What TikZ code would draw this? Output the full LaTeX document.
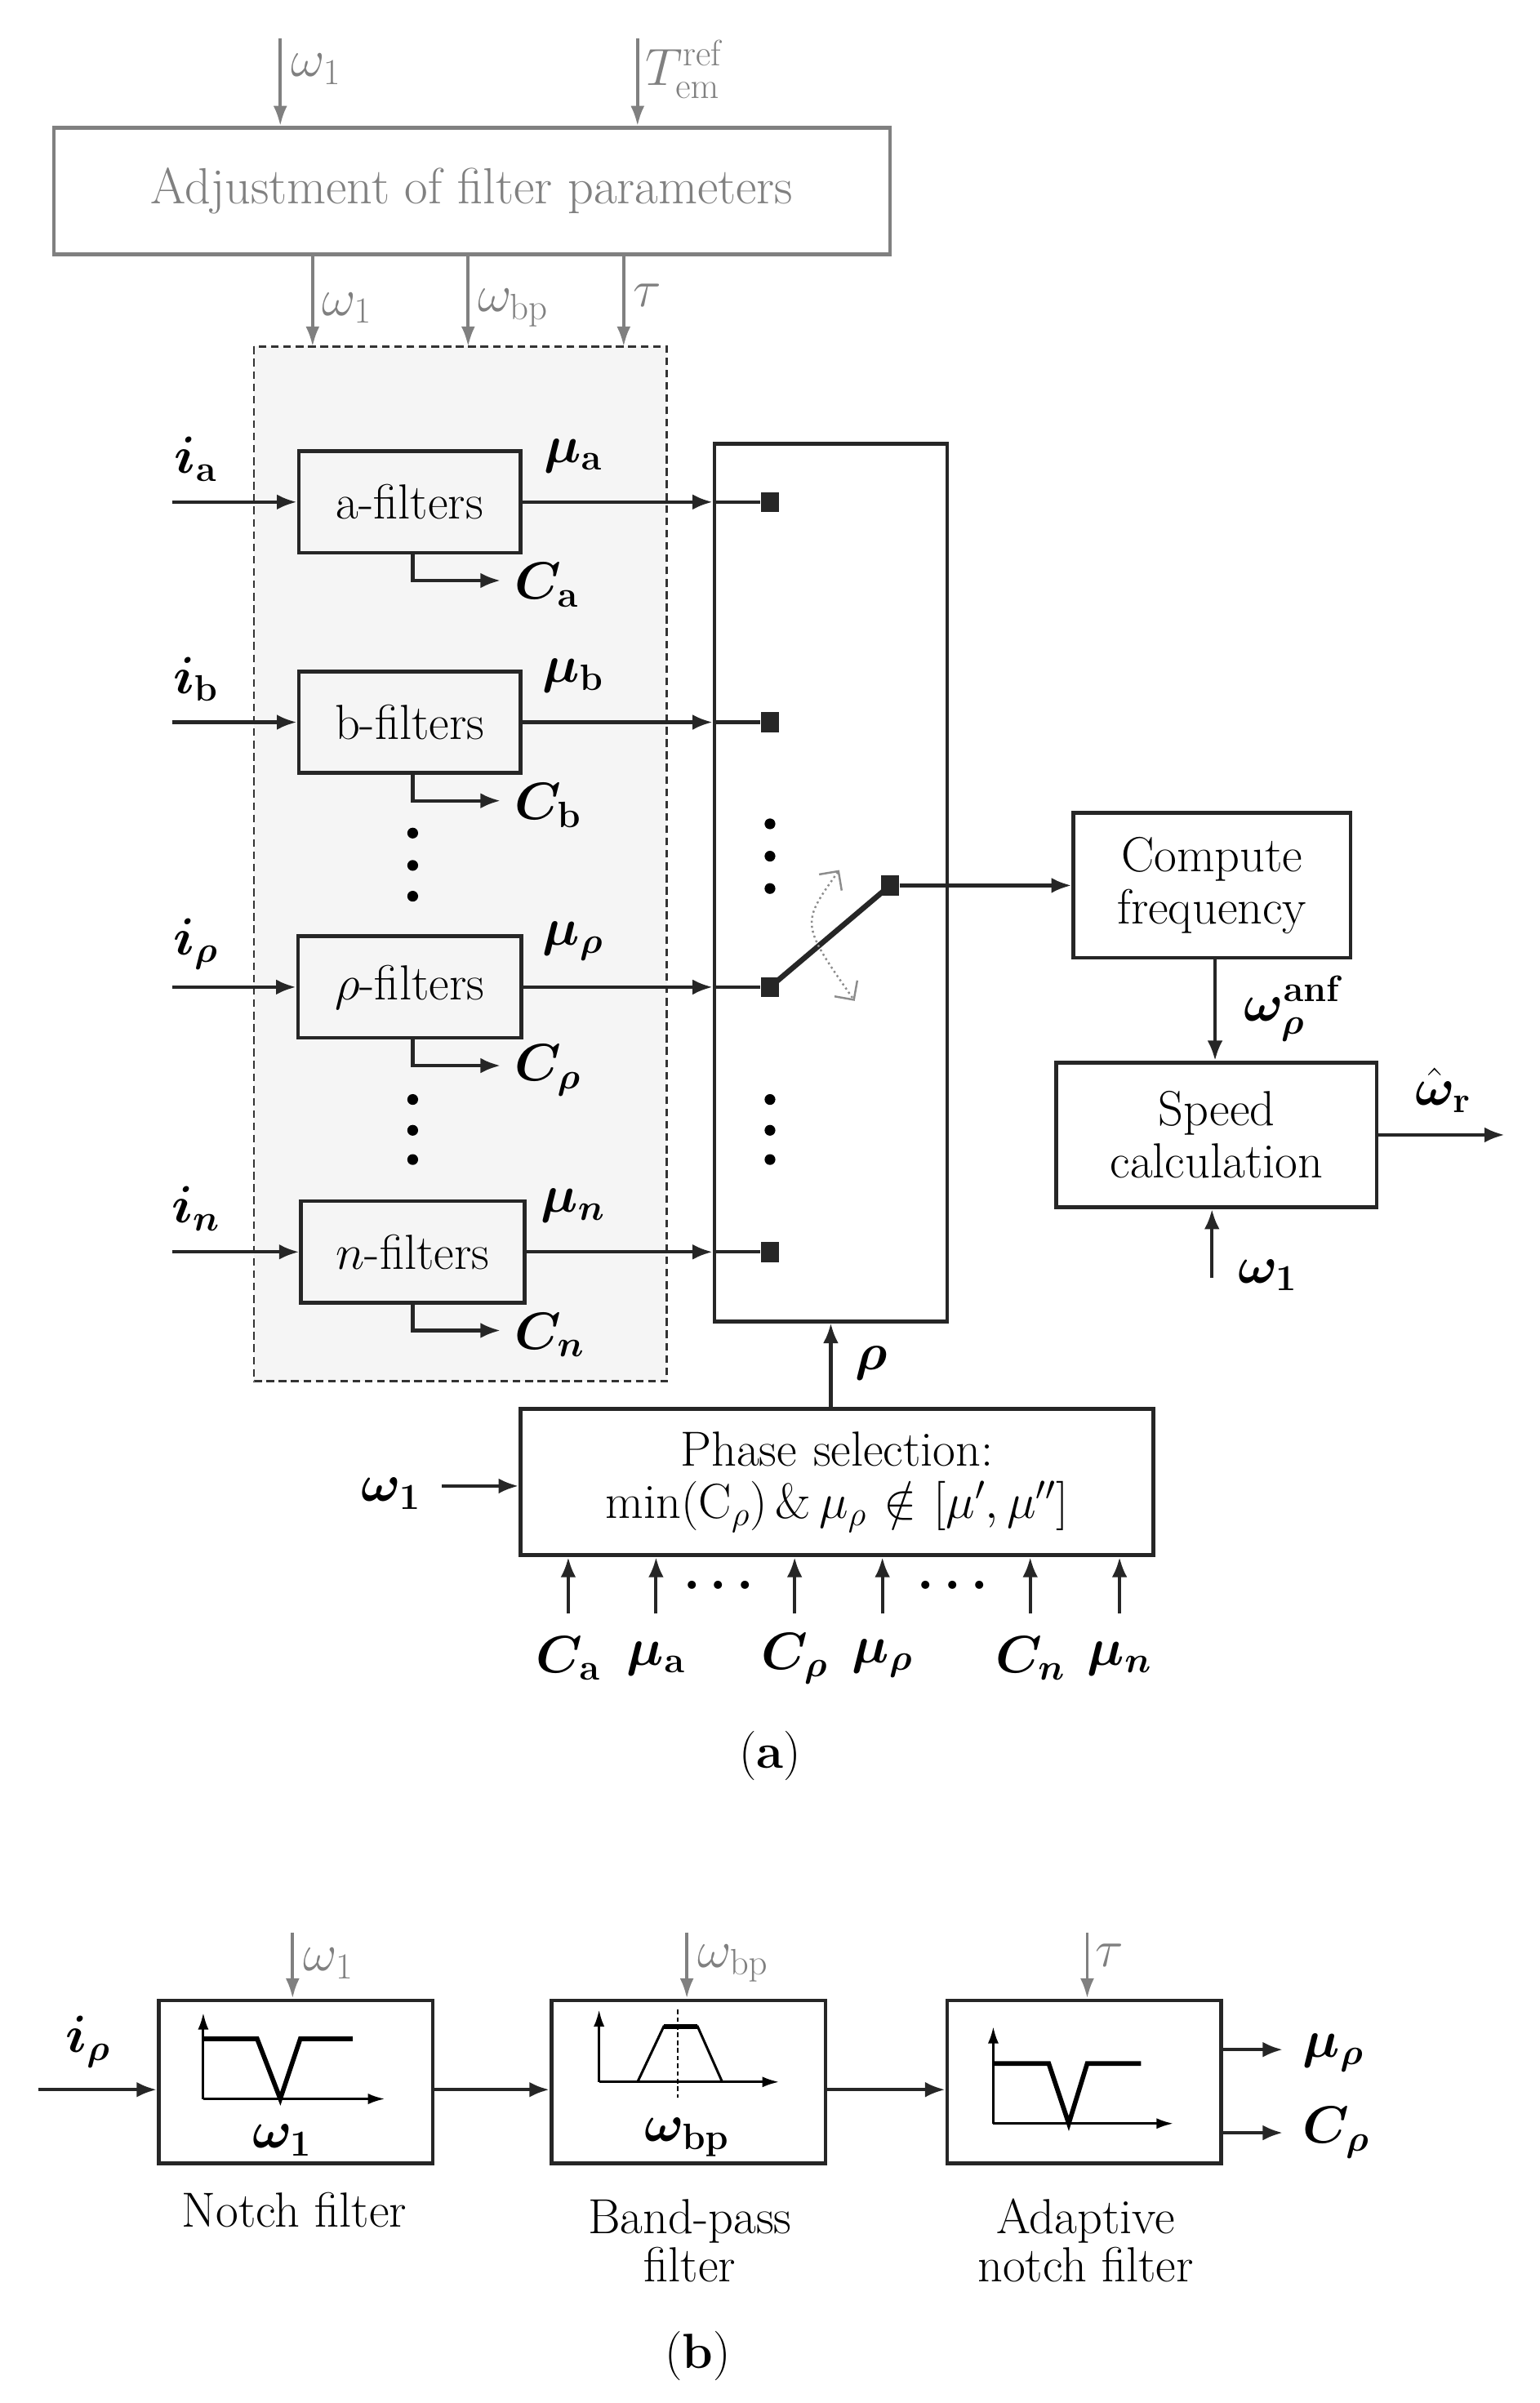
\RequirePackage{fix-cm}
\documentclass[tikz,border=0pt]{standalone}
\usepackage{amsmath,amssymb,bm}
\usetikzlibrary{arrows.meta}
\begin{document}
\begin{tikzpicture}[x=1pt,y=-1pt,
  box/.style={draw=black!85,line width=2.5pt,inner sep=0pt,font=\fontsize{32}{38}\selectfont,align=center},
  gbox/.style={draw=black!50,line width=2.5pt,inner sep=0pt,text=black!50,font=\fontsize{33}{38}\selectfont},
  lab/.style={inner sep=1pt,font=\fontsize{34}{40}\selectfont},
  glab/.style={inner sep=1pt,text=black!50,font=\fontsize{34}{40}\selectfont},
  arr/.style={draw=black!85,line width=2.2pt,-{Latex[length=13pt,width=10pt]}},
  garr/.style={draw=black!50,line width=2pt,-{Latex[length=13pt,width=9pt]}},
  sq/.style={fill=black!85,minimum width=12pt,minimum height=13pt,inner sep=0pt},
  dot/.style={circle,fill=black,inner sep=0pt,minimum size=7pt},
  captxt/.style={inner sep=0pt,font=\fontsize{32}{36}\selectfont,align=center},
  ax/.style={line width=1.6pt,-{Latex[length=11pt,width=7pt]}},
  crv/.style={line width=3pt}]
\useasboundingbox (0,0) rectangle (1000,1560.5);
% ---------- (a) ----------
\node[gbox,minimum width=543pt,minimum height=82pt] (adj) at (306.5,124) {Adjustment of filter parameters};
\coordinate (t1) at (182,25); \coordinate (t2) at (414,25);
\draw[garr] (t1) -- (t1 |- adj.north);
\draw[garr] (t2) -- (t2 |- adj.north);
\node[glab,anchor=west] (tw1) at (188,45) {$\omega_1$};
\node[glab,anchor=west] (tT) at (418,45) {$T_{\mathrm{em}}^{\mathrm{ref}}$};
\fill[black!4] (165,225) rectangle (433,897);
\draw[black!80,line width=1.3pt,dash pattern=on 5pt off 3pt] (165,225) rectangle (433,897);
\coordinate (d1) at (203,225); \coordinate (d2) at (304,225); \coordinate (d3) at (405,225);
\draw[garr] (d1 |- adj.south) -- (d1);
\draw[garr] (d2 |- adj.south) -- (d2);
\draw[garr] (d3 |- adj.south) -- (d3);
\node[glab,anchor=west] (lw1) at (208,200) {$\omega_1$};
\node[glab,anchor=west] (lwbp) at (309,200) {$\omega_{\mathrm{bp}}$};
\node[glab,anchor=west] (ltau) at (410,192) {$\tau$};
% big switch box
\node[box,minimum width=151pt,minimum height=570pt] (sw) at (539.5,573) {};
% filter rows
\foreach \n/\t/\cx/\cy/\w/\ii/\mm/\cc in {
  a/{a-filters}/266/326/144/{\bm{i}_{\mathbf{a}}}/{\bm{\mu}_{\mathbf{a}}}/{\bm{C}_{\mathbf{a}}},
  b/{b-filters}/266/469/144/{\bm{i}_{\mathbf{b}}}/{\bm{\mu}_{\mathbf{b}}}/{\bm{C}_{\mathbf{b}}},
  r/{$\rho$-filters}/266/641/145/{\bm{i}_{\bm{\rho}}}/{\bm{\mu}_{\bm{\rho}}}/{\bm{C}_{\bm{\rho}}},
  n/{$n$-filters}/268/813/145/{\bm{i}_{\bm{n}}}/{\bm{\mu}_{\bm{n}}}/{\bm{C}_{\bm{n}}}}{
  \node[box,minimum width=\w pt,minimum height=66pt] (f\n) at (\cx,\cy) {\t};
  \coordinate (in\n) at (112,\cy);
  \draw[arr] (in\n) -- (f\n.west);
  \node[lab] (li\n) at (127,\cy-28) {$\ii$};
  \node[sq] (s\n) at (500,\cy) {};
  \draw[arr] (f\n.east) -- (sw.west |- f\n.east);
  \draw[line width=2.2pt,black!85] (sw.west |- f\n.east) -- (s\n);
  \node[lab] (lm\n) at (372,\cy-30) {$\mm$};
  \coordinate (cb\n) at (268,\cy+33);
  \coordinate (ce\n) at (325,\cy+51);
  \draw[arr] (cb\n) |- (ce\n);
  \node[lab,anchor=west] (lc\n) at (333,\cy+54) {$\cc$};
}
\foreach \y [count=\k] in {541,562,582}{\node[dot] (da\k) at (268,\y) {};}
\foreach \y [count=\k] in {714,734,753}{\node[dot] (db\k) at (268,\y) {};}
\foreach \y [count=\k] in {535,556,577}{\node[dot] (dc\k) at (500,\y) {};}
\foreach \y [count=\k] in {714,734,753}{\node[dot] (dd\k) at (500,\y) {};}
% switch
\node[sq] (sout) at (578,575) {};
\draw[line width=3.5pt,black!85] (sr.center) -- (sout.center);
\draw[black!45,line width=1.3pt,dotted,{Straight Barb[length=9pt]}-{Straight Barb[length=9pt]}] (545,565) .. controls (520,600) .. (555,650);
% compute / speed
\node[box,minimum width=180pt,minimum height=94pt,text width=180pt] (cf) at (787,575) {Compute\\[-4pt]frequency};
\draw[arr] (sout) -- (cf.west);
\node[box,minimum width=208pt,minimum height=94pt,text width=208pt] (sc) at (790,737) {Speed\\[-4pt]calculation};
\draw[arr] (cf.south -| 789,0) -- (sc.north -| 789,0);
\node[lab] (lanf) at (840,655) {$\bm{\omega}_{\bm{\rho}}^{\mathbf{anf}}$};
\coordinate (wr) at (977,737);
\draw[arr] (sc.east) -- (wr);
\node[lab] (lwr) at (937,708) {$\hat{\bm{\omega}}_{\mathbf{r}}$};
\coordinate (sw1) at (787,830);
\draw[arr] (sw1) -- (sw1 |- sc.south);
\node[lab] (lsw1) at (823,828) {$\bm{\omega}_{\mathbf{1}}$};
% phase selection
\node[box,minimum width=411pt,minimum height=95pt,text width=411pt] (ps) at (543.5,962.5) {Phase selection:\\[-4pt]min($\mathrm{C}_\rho$)\,\&\,$\mu_\rho\!\notin\![\mu',\mu'']$};
\draw[arr] (ps.north -| sw.south) -- (sw.south);
\node[lab] (lrho) at (566,885) {$\bm{\rho}$};
\coordinate (pw) at (287,965);
\draw[arr] (pw) -- (ps.west |- pw);
\node[lab] (lpw) at (254,970) {$\bm{\omega}_{\mathbf{1}}$};
\foreach \x/\t [count=\k] in {369/{\bm{C}_{\mathbf{a}}},426/{\bm{\mu}_{\mathbf{a}}},516/{\bm{C}_{\bm{\rho}}},573/{\bm{\mu}_{\bm{\rho}}},669/{\bm{C}_{\bm{n}}},727/{\bm{\mu}_{\bm{n}}}}{
  \coordinate (pb\k) at (\x,1048);
  \draw[arr] (pb\k) -- (pb\k |- ps.south);
  \node[lab] (lpb\k) at (\x,1077) {$\t$};
}
\node[lab] (pd1) at (470,1030) {$\bm{\cdots}$};
\node[lab] (pd2) at (622,1030) {$\bm{\cdots}$};
\node[captxt] (capa) at (500,1140) {(\textbf{a})};
% ---------- (b) ----------
\node[box,minimum width=178pt,minimum height=106pt] (b1) at (192,1352) {};
\node[box,minimum width=178pt,minimum height=106pt] (b2) at (447,1352) {};
\node[box,minimum width=178pt,minimum height=106pt] (b3) at (704,1352) {};
\coordinate (bi) at (25,1357);
\draw[arr] (bi) -- (b1.west |- bi);
\draw[arr] (b1.east |- bi) -- (b2.west |- bi);
\draw[arr] (b2.east |- bi) -- (b3.west |- bi);
\node[lab] (lbi) at (57,1326) {$\bm{i}_{\bm{\rho}}$};
\coordinate (bo1) at (833,1331); \coordinate (bo2) at (833,1385);
\draw[arr] (b3.east |- bo1) -- (bo1);
\draw[arr] (b3.east |- bo2) -- (bo2);
\node[lab,anchor=west] (lbo1) at (845,1333) {$\bm{\mu}_{\bm{\rho}}$};
\node[lab,anchor=west] (lbo2) at (845,1385) {$\bm{C}_{\bm{\rho}}$};
\coordinate (g1) at (190,1255); \coordinate (g2) at (446,1255); \coordinate (g3) at (706,1255);
\draw[garr] (g1) -- (g1 |- b1.north);
\draw[garr] (g2) -- (g2 |- b2.north);
\draw[garr] (g3) -- (g3 |- b3.north);
\node[glab,anchor=west] (lg1) at (196,1275) {$\omega_1$};
\node[glab,anchor=west] (lg2) at (452,1275) {$\omega_{\mathrm{bp}}$};
\node[glab,anchor=west] (lg3) at (710,1270) {$\tau$};
% plots
\draw[ax] (132,1363) -- (132,1307);
\draw[ax] (132,1363) -- (250,1363);
\draw[crv] (132,1324) -- (167,1324) -- (182,1363) -- (195,1324) -- (229,1324);
\node[lab] (lp1) at (183,1390) {$\bm{\omega}_{\mathbf{1}}$};
\draw[ax] (389,1352) -- (389,1305);
\draw[ax] (389,1352) -- (506,1352);
\draw[line width=1.6pt] (414,1352) -- (431,1316) -- (453,1316) -- (469,1352);
\draw[crv] (431,1316) -- (453,1316);
\draw[line width=1pt,dash pattern=on 3pt off 2pt] (440,1305) -- (440,1362);
\node[lab] (lp2) at (446,1388) {$\bm{\omega}_{\mathbf{bp}}$};
\draw[ax] (645,1379) -- (645,1316);
\draw[ax] (645,1379) -- (762,1379);
\draw[crv] (645,1340) -- (681,1340) -- (694,1379) -- (706,1340) -- (741,1340);
\node[captxt] (n1) at (191,1435) {Notch filter};
\node[captxt] (n2) at (448,1455) {Band-pass\\[-5pt]filter};
\node[captxt] (n3) at (705,1455) {Adaptive\\[-5pt]notch filter};
\node[captxt] (capb) at (453,1530) {(\textbf{b})};
\end{tikzpicture}
\end{document}
